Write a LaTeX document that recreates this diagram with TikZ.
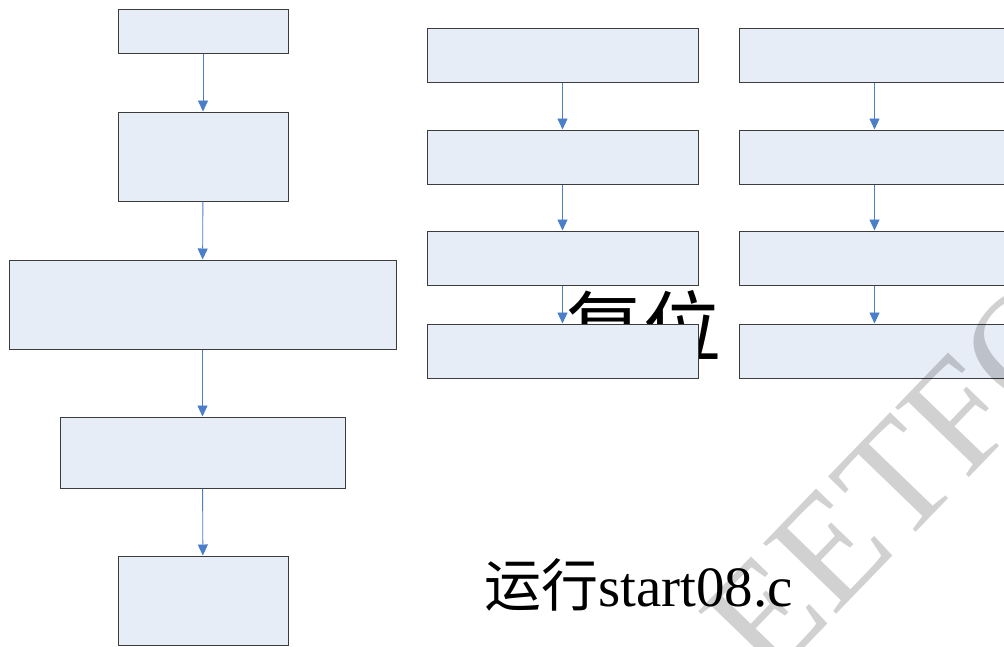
\documentclass[tikz,border=0pt]{standalone}
\usepackage{fontspec}
\setmainfont{Liberation Serif}
\newfontfamily\cjk{Noto Sans CJK SC}
\usetikzlibrary{arrows.meta}
\definecolor{boxfill}{RGB}{231,237,247}
\definecolor{boxline}{RGB}{60,60,60}
\definecolor{arrowblue}{RGB}{74,126,200}
\tikzset{
  flowbox/.style={draw=boxline, fill=boxfill, line width=1pt, inner sep=0pt},
  flowarrow/.style={draw=arrowblue, line width=0.9pt, -{Triangle[length=11pt,width=10pt]}, shorten >=0pt},
  bigtext/.style={inner sep=0pt, anchor=base west}
}
\begin{document}
\begin{tikzpicture}[x=1pt,y=-1pt]
\useasboundingbox (0,0) rectangle (1004,646);
\clip (0,0) rectangle (1004,646);
% hidden large label behind boxes
\node[bigtext] (fuwei) at (565,356) {\fontsize{78}{78}\selectfont\cjk 复位};
% left column
\node[flowbox, minimum width=170pt, minimum height=44pt] (b1) at (203,31) {};
\node[flowbox, minimum width=170pt, minimum height=89pt] (b2) at (203,156.5) {};
\node[flowbox, minimum width=387pt, minimum height=89pt] (b3) at (202.5,304.5) {};
\node[flowbox, minimum width=285pt, minimum height=71pt] (b4) at (202.5,452.5) {};
\node[flowbox, minimum width=170pt, minimum height=89pt] (b5) at (203,600.5) {};
% middle column
\node[flowbox, minimum width=271pt, minimum height=54pt] (m1) at (562.5,55) {};
\node[flowbox, minimum width=271pt, minimum height=54pt] (m2) at (562.5,157) {};
\node[flowbox, minimum width=271pt, minimum height=54pt] (m3) at (562.5,258) {};
\node[flowbox, minimum width=271pt, minimum height=54pt] (m4) at (562.5,351) {};
% right column
\node[flowbox, minimum width=271pt, minimum height=54pt] (r1) at (874.5,55) {};
\node[flowbox, minimum width=271pt, minimum height=54pt] (r2) at (874.5,157) {};
\node[flowbox, minimum width=271pt, minimum height=54pt] (r3) at (874.5,258) {};
\node[flowbox, minimum width=271pt, minimum height=54pt] (r4) at (874.5,351) {};
% arrows
\draw[flowarrow] (b1) -- (b2);
\draw[flowarrow] (b2) -- (b3);
\draw[flowarrow] (b3) -- (b4);
\draw[flowarrow] (b4) -- (b5);
\draw[flowarrow] (m1) -- (m2);
\draw[flowarrow] (m2) -- (m3);
\draw[flowarrow] (m3) -- (m4);
\draw[flowarrow] (r1) -- (r2);
\draw[flowarrow] (r2) -- (r3);
\draw[flowarrow] (r3) -- (r4);
% run label
\node[bigtext] (run) at (484,606) {\fontsize{57}{57}\selectfont{\cjk 运行}start08.c};
% watermark
\node[inner sep=0pt, anchor=base west, rotate=46, text=black, opacity=0.18] (wm) at (768,686) {\fontsize{155}{155}\selectfont EETFOCUS};
\end{tikzpicture}
\end{document}
